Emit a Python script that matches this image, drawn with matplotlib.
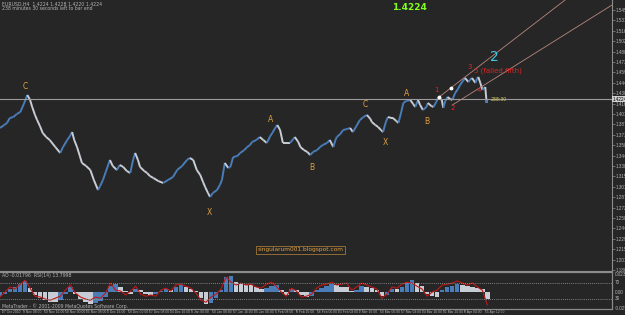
import numpy as np
import matplotlib.pyplot as plt
import matplotlib.transforms as mtransforms
from matplotlib.collections import LineCollection

# EURUSD H4 swings (bar index, close)
bars = [0, 6, 10, 14, 19, 24, 29, 34, 39, 43, 46, 50, 53, 57, 61, 66, 71, 79, 86, 90,
        96, 100, 103, 106, 110, 114, 117, 123, 129, 134, 140, 143, 147, 151, 157, 161, 167, 171, 176, 181,
        186, 190, 193, 197, 200, 206, 210, 214, 219, 226, 233, 240, 247, 253, 260, 267, 271, 276, 281, 286,
        290, 293, 297, 300, 304, 310, 314, 317, 321, 326, 329, 333, 339, 343, 349, 353, 357, 360, 366, 371,
        376, 381, 386, 389, 393, 396, 400, 404, 410, 414, 419, 421, 426, 429, 434, 439, 443, 447, 453, 457,
        461, 467, 471, 476, 479, 481, 486, 490, 496, 500, 504, 509, 514, 519, 524, 529, 531, 536, 540, 544,
        547, 551, 554, 559, 561, 566, 569, 573, 576, 580, 586, 590, 593, 597, 600, 604, 609, 611, 616, 619,
        623, 626, 629, 631, 633, 636, 639, 643, 646, 650, 654, 657, 661, 664, 669, 671, 674, 679, 681, 683,
        686, 689, 691, 693, 695, 696]
closes = [1.3826, 1.3867, 1.3895, 1.3964, 1.3977, 1.4019, 1.4046, 1.4157, 1.4281, 1.4212,
          1.4115, 1.4005, 1.3936, 1.3853, 1.3757, 1.3701, 1.3660, 1.3563, 1.3481, 1.3563,
          1.3660, 1.3715, 1.3770, 1.3660, 1.3563, 1.3439, 1.3343, 1.3301, 1.3246, 1.3108,
          1.2970, 1.3025, 1.3108, 1.3218, 1.3384, 1.3301, 1.3246, 1.3315, 1.3288, 1.3232,
          1.3205, 1.3384, 1.3481, 1.3384, 1.3288, 1.3232, 1.3205, 1.3163, 1.3136, 1.3094,
          1.3067, 1.3108, 1.3149, 1.3246, 1.3301, 1.3384, 1.3412, 1.3384, 1.3246, 1.3177,
          1.3080, 1.3011, 1.2929, 1.2874, 1.2929, 1.2970, 1.3039, 1.3108, 1.3343, 1.3274,
          1.3288, 1.3425, 1.3439, 1.3481, 1.3522, 1.3563, 1.3591, 1.3632, 1.3660, 1.3701,
          1.3660, 1.3619, 1.3715, 1.3757, 1.3826, 1.3867, 1.3798, 1.3619, 1.3619, 1.3619,
          1.3674, 1.3701, 1.3632, 1.3563, 1.3522, 1.3494, 1.3453, 1.3494, 1.3522, 1.3563,
          1.3591, 1.3619, 1.3660, 1.3563, 1.3660, 1.3701, 1.3743, 1.3798, 1.3812, 1.3826,
          1.3770, 1.3853, 1.3936, 1.3977, 1.4005, 1.3950, 1.3908, 1.3867, 1.3839, 1.3798,
          1.3770, 1.3908, 1.3977, 1.3964, 1.3964, 1.3922, 1.3895, 1.4046, 1.4171, 1.4198,
          1.4212, 1.4157, 1.4115, 1.4212, 1.4143, 1.4074, 1.4115, 1.4171, 1.4129, 1.4115,
          1.4184, 1.4253, 1.4226, 1.4212, 1.4102, 1.4198, 1.4253, 1.4226, 1.4212, 1.4309,
          1.4364, 1.4419, 1.4474, 1.4516, 1.4460, 1.4488, 1.4516, 1.4447, 1.4502, 1.4530,
          1.4447, 1.4350, 1.4378, 1.4391, 1.4171, 1.4224]
bid = 1.4224

# AO histogram and RSI(14), one value every ~7 bars
ao = [-0.0052, -0.0026, 0.0039, 0.0065, 0.0104, 0.0143, 0.0052, -0.0039, -0.0078, -0.0104,
      -0.0130, -0.0130, -0.0104, -0.0026, 0.0065, -0.0026, -0.0091, -0.0130, -0.0156, -0.0143,
      -0.0117, -0.0065, 0.0078, 0.0104, 0.0065, 0.0013, -0.0026, 0.0039, 0.0026, -0.0026,
      -0.0039, -0.0026, 0.0013, 0.0039, 0.0026, 0.0065, 0.0091, 0.0065, 0.0039, 0.0013,
      -0.0078, -0.0156, -0.0143, -0.0078, 0.0026, 0.0195, 0.0208, 0.0130, 0.0104, 0.0091,
      0.0091, 0.0065, 0.0039, 0.0052, 0.0078, 0.0091, 0.0026, -0.0039, 0.0039, 0.0026,
      -0.0039, -0.0065, -0.0052, 0.0026, 0.0052, 0.0078, 0.0104, 0.0091, 0.0065, 0.0065,
      0.0013, 0.0026, 0.0078, 0.0065, 0.0052, 0.0026, -0.0052, -0.0039, 0.0039, 0.0039,
      0.0065, 0.0130, 0.0156, 0.0117, 0.0078, -0.0026, -0.0052, -0.0065, 0.0026, 0.0065,
      0.0078, 0.0104, 0.0091, 0.0078, 0.0065, 0.0052, 0.0039, -0.0091]
rsi = [35, 48, 60, 55, 67, 77, 57, 37, 35, 30, 27, 32, 37, 52, 65, 45, 35, 30, 27, 35,
       32, 45, 70, 52, 50, 40, 50, 62, 42, 37, 40, 37, 52, 57, 50, 65, 67, 62, 57, 45,
       27, 22, 35, 42, 55, 85, 72, 65, 70, 65, 67, 60, 57, 67, 72, 62, 47, 37, 57, 50,
       35, 37, 42, 57, 65, 67, 72, 65, 67, 70, 52, 60, 70, 65, 60, 55, 32, 42, 60, 57,
       67, 72, 70, 62, 55, 37, 47, 52, 65, 67, 70, 75, 70, 65, 70, 60, 52, 15]

date_labels = ['27 Oct 2010', '3 Nov 08:00', '10 Nov 16:00', '18 Nov 00:00', '25 Nov 08:00',
               '2 Dec 16:00', '10 Dec 00:00', '17 Dec 08:00', '24 Dec 16:00', '3 Jan 00:00',
               '10 Jan 08:00', '17 Jan 16:00', '25 Jan 00:00', '1 Feb 08:00', '8 Feb 16:00',
               '16 Feb 00:00', '23 Feb 08:00', '2 Mar 16:00', '10 Mar 00:00', '17 Mar 08:00',
               '24 Mar 16:00', '31 Mar 20:00', '8 Apr 04:00', '15 Apr 12:00']

# Elliott wave marks
wave_text = ['C', 'X', 'A', 'B', 'C', 'X', 'A', 'B']
wave_bar = [36, 299, 387, 446, 521, 550, 581, 609]
wave_price = [1.4405, 1.2653, 1.3936, 1.3287, 1.4143, 1.3632, 1.4295, 1.3922]
impulse_text = ['1', '2', '3', '4', '5 (failed fifth)']
impulse_bar = [624, 647, 671, 684, 711]
impulse_price = [1.4350, 1.4102, 1.4667, 1.4350, 1.4612]

# channel lines (bar, price)
chan_upper = [(627, 1.4253), (807, 1.5592)]
chan_lower = [(646, 1.4143), (874, 1.5523)]
chan_dots = [(627, 1.4253), (644, 1.4378)]

bg = '#262626'
grid = '#8c8c8c'
txt = '#b4b4b4'
orange = '#e0a040'
red = '#d82828'
up_col = '#4a7db8'
dn_col = '#c8ccd4'
small = ['Liberation Sans Narrow', 'Liberation Sans', 'DejaVu Sans']

W, H = 625, 315
fig = plt.figure(figsize=(W / 100, H / 100), dpi=100, facecolor=bg)
ax = fig.add_axes([0, 44 / H, 612 / W, 271 / H], facecolor=bg)
ax2 = fig.add_axes([0, 6 / H, 612 / W, 37 / H], facecolor=bg)

# ---- main price panel
x = np.array(bars)
y = np.array(closes)
pts = np.column_stack([x, y]).reshape(-1, 1, 2)
segs = np.concatenate([pts[:-1], pts[1:]], axis=1)
cols = [up_col if b > a else dn_col for a, b in zip(y[:-1], y[1:])]
ax.add_collection(LineCollection(segs, colors=cols, linewidths=1.4))

ax.axhline(bid, color='#9a9a9a', lw=0.8)
for (x0, y0), (x1, y1) in [chan_upper, chan_lower]:
    ax.plot([x0, x1], [y0, y1], color='#b88880', lw=0.6)
ax.scatter([p[0] for p in chan_dots], [p[1] for p in chan_dots], s=3, color='white', zorder=5)

for t, bx, py in zip(wave_text, wave_bar, wave_price):
    ax.text(bx, py, t, color=orange, fontsize=5.5, ha='center', va='center')
for t, bx, py in zip(impulse_text, impulse_bar, impulse_price):
    ax.text(bx, py, t, color=red, fontsize=5, ha='center', va='center')
ax.text(706, 1.4805, '2', color='#40c8e0', fontsize=10, ha='center', va='center')
ax.text(700, bid, '238:30', color='#d8d060', fontsize=3.3, ha='left', va='center')
ax.text(609, 1.5495, '1.4224', color='#80ff20', fontsize=6.5, fontweight='bold', ha='right', va='center')
ax.text(429, 1.2142, 'singularum001.blogspot.com', color=orange, fontsize=4.2, ha='center', va='center',
        bbox=dict(facecolor='none', edgecolor=orange, lw=0.4, pad=0.8))

ax.set_xlim(0, 874)
ax.set_ylim(1.1852, 1.5592)
yt = [1.5454 - 0.01435 * k for k in range(26)]
ax.yaxis.tick_right()
ax.set_yticks(yt)
ax.set_yticklabels(['%.5f' % v for v in yt], family=small)
ax.tick_params(axis='y', colors=grid, labelcolor=txt, labelsize=3.3, length=2, width=0.5, pad=1)
ax.set_xticks([])
for s in ['left', 'top']:
    ax.spines[s].set_visible(False)
for s in ['right', 'bottom']:
    ax.spines[s].set_color(grid)
    ax.spines[s].set_linewidth(0.8)

# current bid box on the price scale
tr = mtransforms.blended_transform_factory(fig.transFigure, ax.transData)
fig.text(613 / W, bid, '1.42240', transform=tr, fontsize=3.3, color='black', family=small,
         va='center', bbox=dict(facecolor='#d0d0d0', edgecolor='none', pad=0.4), zorder=10)

fig.text(2 / W, 1 - 4 / H, 'EURUSD,H4  1.4224 1.4228 1.4220 1.4224', color=txt, fontsize=3.3, va='center')
fig.text(2 / W, 1 - 9 / H, '238 minutes 30 seconds left to bar end', color=txt, fontsize=3.3, va='center')

# ---- indicator panel
xi = np.linspace(0, 696, len(ao))
aov = np.array(ao)
hcols = [up_col] + [up_col if b > a else dn_col for a, b in zip(aov[:-1], aov[1:])]
ax2.bar(xi, aov, width=6.5, color=hcols, linewidth=0)
ax2.set_ylim(-0.0221, 0.0260)
ax2.set_xlim(0, 874)
ax3 = ax2.twinx()
ax3.plot(xi, rsi, color='#c01818', lw=0.8)
ax3.set_ylim(5, 97.5)
for lv in [70, 30]:
    ax3.axhline(lv, color='#a0a0a0', lw=0.6, ls=(0, (1, 1.5)))
ax3.set_yticks([])
ax2.set_yticks([])
for a in [ax2, ax3]:
    a.spines['left'].set_visible(False)
    for s in ['right', 'bottom', 'top']:
        a.spines[s].set_color(grid)
        a.spines[s].set_linewidth(0.8)

# date labels placed straight under their ticks
date_pos = [3 + 30 * k for k in range(len(date_labels))]
ax2.set_xticks(date_pos)
ax2.set_xticklabels([])
ax2.tick_params(axis='x', colors=grid, length=1.5, width=0.5)
dtr = mtransforms.blended_transform_factory(ax2.transData, fig.transFigure)
for p, s in zip(date_pos, date_labels):
    fig.text(p, 3 / H, s, transform=dtr, color=txt, fontsize=2.4, family=small, ha='left', va='center')

for ypx, s in [(274, '0.02348'), (283, '70'), (292, '0.00'), (299, '30'), (308, '-0.02548')]:
    fig.text(615 / W, 1 - ypx / H, s, color=txt, fontsize=3.3, va='center', family=small)
fig.text(2 / W, 1 - 275 / H, 'AO -0.01796  RSI(14) 13.7998', color=txt, fontsize=3.3, va='center')
fig.text(2 / W, 1 - 306 / H, 'MetaTrader - \u00a9 2001-2009 MetaQuotes Software Corp.', color=txt,
         fontsize=3.3, va='center')

fig.savefig('out.png', dpi=100, facecolor=bg)
